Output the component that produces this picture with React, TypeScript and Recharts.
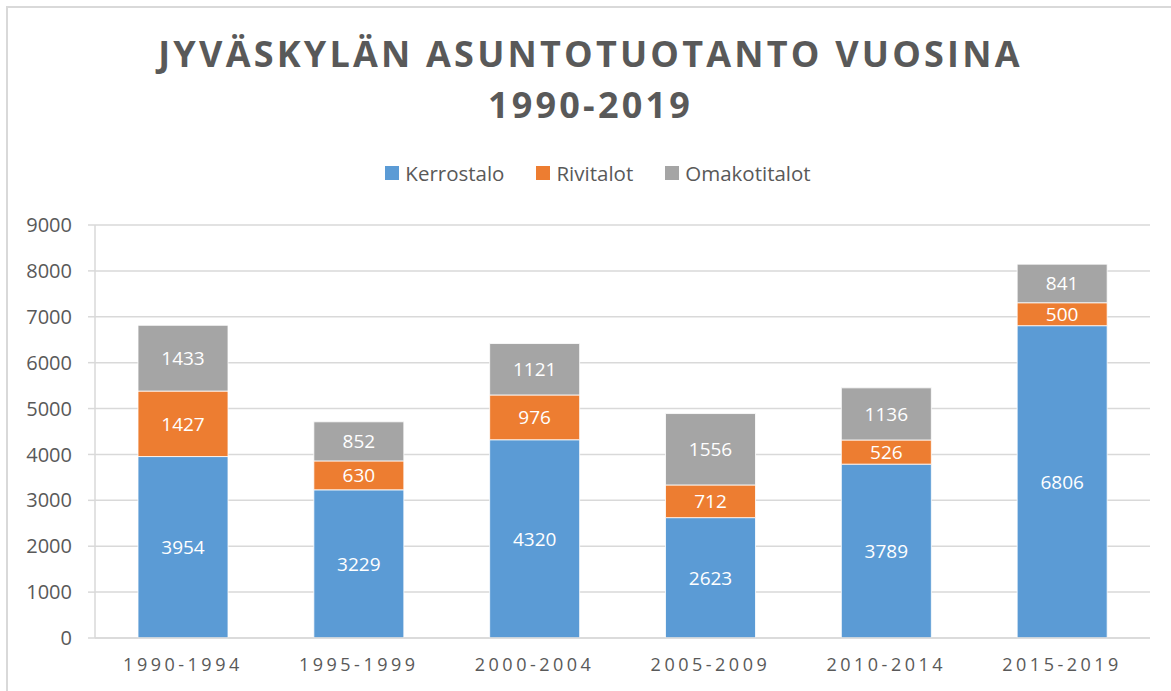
import React from "react";
import { BarChart, Bar, XAxis, YAxis, CartesianGrid, LabelList } from "recharts";

const categories = ["1990-1994", "1995-1999", "2000-2004", "2005-2009", "2010-2014", "2015-2019"];
const kerrostalo = [3954, 3229, 4320, 2623, 3789, 6806];
const rivitalot = [1427, 630, 976, 712, 526, 500];
const omakotitalot = [1433, 852, 1121, 1556, 1136, 841];
const yTicks = [0, 1000, 2000, 3000, 4000, 5000, 6000, 7000, 8000, 9000];
const titleLines = ["JYVÄSKYLÄN ASUNTOTUOTANTO VUOSINA", "1990-2019"];

const series = [
  { key: "kerrostalo", name: "Kerrostalo", color: "#5B9BD5" },
  { key: "rivitalot", name: "Rivitalot", color: "#ED7D31" },
  { key: "omakotitalot", name: "Omakotitalot", color: "#A5A5A5" },
];

const data = categories.map((c, i) => ({
  name: c,
  kerrostalo: kerrostalo[i],
  rivitalot: rivitalot[i],
  omakotitalot: omakotitalot[i],
}));

const FONT = "'Open Sans', 'Noto Sans', sans-serif";
const GRAY = "#595959";

export default function App() {
  return (
    <div style={{ position: "absolute", left: 0, top: 0, width: 1171, height: 691, overflow: "hidden", background: "#fff" }}>
      <div style={{ position: "absolute", left: 6, top: 6, width: 1300, height: 800, border: "2px solid #d9d9d9", boxSizing: "border-box" }} />
      <div style={{ position: "absolute", left: 0, top: 28, width: 1181, textAlign: "center", fontFamily: FONT, fontWeight: 700, fontSize: 36, letterSpacing: 3.2, color: GRAY, lineHeight: "51px" }}>
        {titleLines.map((t) => (
          <div key={t}>{t}</div>
        ))}
      </div>
      <div style={{ position: "absolute", left: 0, top: 159, width: 1196, display: "flex", justifyContent: "center", alignItems: "center", fontFamily: FONT, fontSize: 20.5, color: GRAY, lineHeight: "28px" }}>
        {series.map((s) => (
          <div key={s.key} style={{ display: "flex", alignItems: "center", margin: "0 16px" }}>
            <span style={{ display: "inline-block", width: 14, height: 14, background: s.color, marginRight: 6 }} />
            <span>{s.name}</span>
          </div>
        ))}
      </div>
      <div style={{ position: "absolute", left: 0, top: 0 }}>
        <BarChart width={1171} height={691} data={data} margin={{ top: 225, right: 21, bottom: 0, left: 0 }} barSize={90}>
          <CartesianGrid vertical={false} stroke="#d9d9d9" strokeWidth={1.5} />
          <XAxis
            dataKey="name"
            axisLine={{ stroke: "#d9d9d9", strokeWidth: 1.5 }}
            tickLine={false}
            tickMargin={14}
            height={53}
            tick={{ fontFamily: FONT, fontSize: 18, fill: GRAY, letterSpacing: 3.5 }}
          />
          <YAxis
            width={95}
            domain={[0, 9000]}
            ticks={yTicks}
            interval={0}
            axisLine={{ stroke: "#d9d9d9", strokeWidth: 1.5 }}
            tickLine={{ stroke: "#d9d9d9", strokeWidth: 1.5 }}
            tickSize={7}
            tickMargin={16}
            tick={{ fontFamily: FONT, fontSize: 20, fill: GRAY }}
          />
          {series.map((s) => (
            <Bar key={s.key} dataKey={s.key} name={s.name} stackId="a" fill={s.color} stroke="#ffffff" strokeWidth={0.8} isAnimationActive={false}>
              <LabelList dataKey={s.key} position="center" fill="#ffffff" style={{ fontFamily: FONT, fontSize: 19 }} />
            </Bar>
          ))}
        </BarChart>
      </div>
    </div>
  );
}
